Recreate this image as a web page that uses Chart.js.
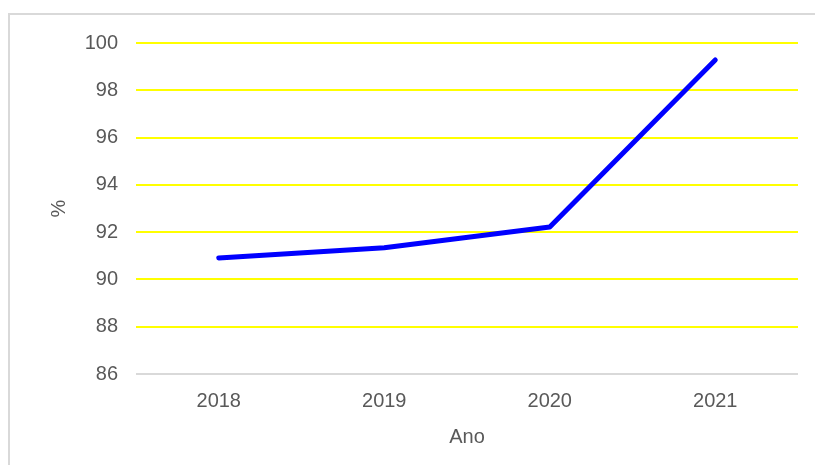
<!DOCTYPE html>
<html>
<head>
<meta charset="utf-8">
<script src="https://cdn.jsdelivr.net/npm/chart.js@4"></script>
<style>
  html, body { margin: 0; padding: 0; background: #fff; overflow: hidden; }
  #wrap { width: 815px; height: 465px; position: relative; }
</style>
</head>
<body>
<div id="wrap"><canvas id="lineChart" width="815" height="465"></canvas></div>
<script>
// values
var anos = ['2018', '2019', '2020', '2021'];
var percentual = [90.91, 91.34, 92.22, 99.28];
var yMin = 86, yMax = 100, yStep = 2;

// light grey frame, cut off at right and bottom like in the original
var framePlugin = {
  id: 'frame',
  beforeDraw: function (chart) {
    var c = chart.ctx;
    c.save();
    c.strokeStyle = '#d9d9d9';
    c.lineWidth = 2;
    c.strokeRect(9, 14, 900, 600);
    c.restore();
  }
};

Chart.defaults.font.family = '"Liberation Sans", Arial, sans-serif';
Chart.defaults.color = '#595959';

var chart = new Chart('lineChart', {
  type: 'line',
  data: {
    labels: anos,
    datasets: [{
      data: percentual,
      borderColor: '#0000ff',
      borderWidth: 5,
      borderCapStyle: 'round',
      borderJoinStyle: 'round',
      pointRadius: 0,
      tension: 0,
      fill: false
    }]
  },
  options: {
    responsive: false,
    animation: false,
    layout: { padding: { top: 43, right: 17, left: 0, bottom: 0 } },
    plugins: { legend: { display: false }, tooltip: { enabled: false } },
    scales: {
      x: {
        offset: true,
        grid: { display: false, drawTicks: false },
        border: { display: false },
        ticks: { font: { size: 20 }, padding: 15 },
        title: { display: true, text: 'Ano', font: { size: 20 }, padding: { top: 16, bottom: 16 } },
        afterFit: function (s) { s.height = 91; }
      },
      y: {
        min: yMin,
        max: yMax,
        grid: {
          drawTicks: false,
          lineWidth: 2,
          color: function (ctx) { return ctx.tick && ctx.tick.value === yMin ? '#d9d9d9' : '#ffff00'; }
        },
        border: { display: false },
        ticks: { stepSize: yStep, font: { size: 20 }, padding: 18 },
        title: { display: true, text: '%', font: { size: 20 }, padding: { top: 47, bottom: 47 } },
        afterFit: function (s) { s.width = 136; }
      }
    }
  },
  plugins: [framePlugin]
});
</script>
</body>
</html>
